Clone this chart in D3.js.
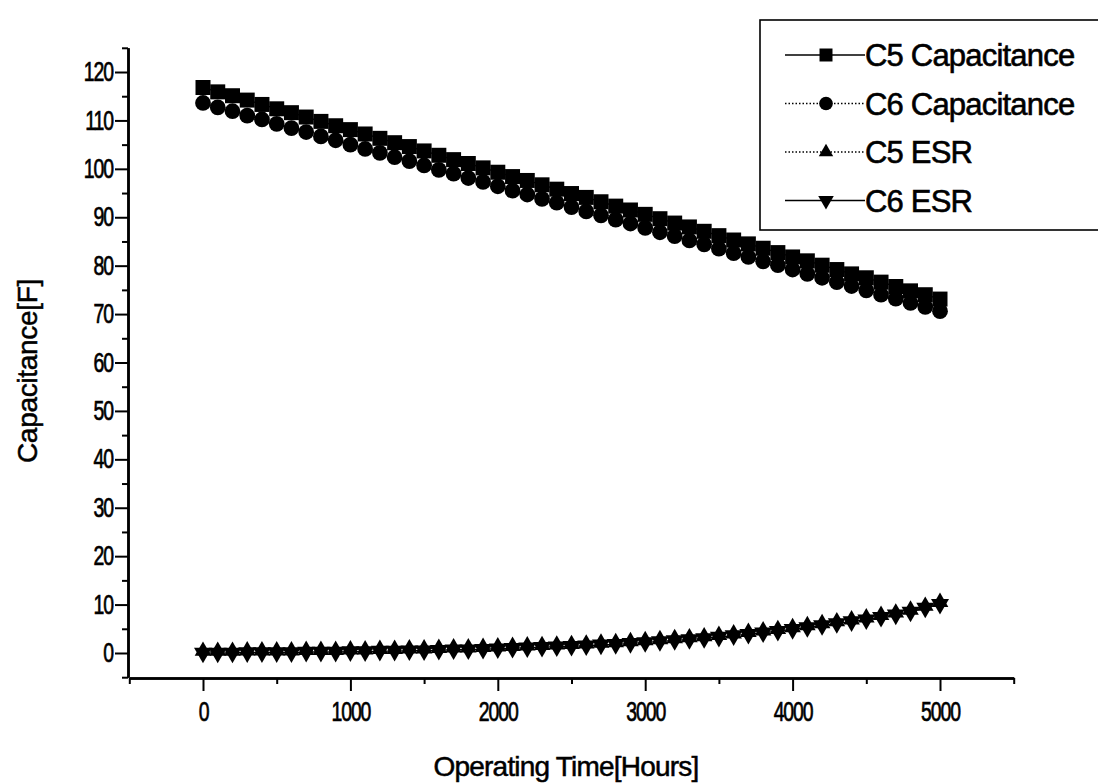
<!DOCTYPE html>
<html><head><meta charset="utf-8">
<script src="https://cdn.jsdelivr.net/npm/d3@7"></script>
<style>body{margin:0;background:#fff}</style>
</head><body><svg id="c" width="1098" height="784"></svg>
<script>
const hours = [0,100,200,300,400,500,600,700,800,900,1000,1100,1200,1300,1400,1500,1600,1700,1800,1900,2000,2100,2200,2300,2400,2500,2600,2700,2800,2900,3000,3100,3200,3300,3400,3500,3600,3700,3800,3900,4000,4100,4200,4300,4400,4500,4600,4700,4800,4900,5000];
const c5Cap = [116.8,115.9,115.1,114.2,113.3,112.4,111.6,110.7,109.8,108.9,108.1,107.2,106.3,105.4,104.6,103.7,102.8,101.9,101.1,100.2,99.3,98.4,97.6,96.7,95.8,94.9,94.1,93.2,92.3,91.5,90.6,89.7,88.8,88.0,87.1,86.2,85.3,84.5,83.6,82.7,81.8,81.0,80.1,79.2,78.3,77.5,76.6,75.7,74.8,74.0,73.1];
const c6Cap = [113.6,112.7,111.9,111.0,110.2,109.3,108.4,107.6,106.7,105.9,105.0,104.1,103.3,102.4,101.6,100.7,99.8,99.0,98.1,97.3,96.4,95.5,94.7,93.8,93.0,92.1,91.2,90.4,89.5,88.7,87.8,86.9,86.1,85.2,84.4,83.5,82.6,81.8,80.9,80.1,79.2,78.3,77.5,76.6,75.8,74.9,74.0,73.2,72.3,71.5,70.6];
const c5Esr = [0.4,0.4,0.4,0.5,0.5,0.5,0.5,0.6,0.6,0.6,0.7,0.7,0.8,0.8,0.9,0.9,1.0,1.1,1.1,1.2,1.3,1.4,1.5,1.6,1.7,1.8,1.9,2.1,2.2,2.4,2.6,2.8,3.0,3.2,3.4,3.7,4.0,4.3,4.6,4.9,5.3,5.7,6.1,6.5,6.9,7.3,7.8,8.3,8.9,9.7,10.5];
const c6Esr = [0.0,0.0,0.0,0.1,0.1,0.1,0.1,0.2,0.2,0.2,0.3,0.3,0.4,0.4,0.5,0.5,0.6,0.7,0.7,0.8,0.9,1.0,1.1,1.2,1.3,1.4,1.5,1.7,1.8,2.0,2.2,2.4,2.6,2.8,3.0,3.3,3.6,3.9,4.2,4.5,4.9,5.3,5.7,6.1,6.5,6.9,7.4,7.9,8.5,9.3,10.1];
const seriesNames = ["C5 Capacitance","C6 Capacitance","C5 ESR","C6 ESR"];
const xTicks = [0,1000,2000,3000,4000,5000];
const xMinor = [-500,500,1500,2500,3500,4500,5500];
const yTicks = [0,10,20,30,40,50,60,70,80,90,100,110,120];
const yMinor = [-5,5,15,25,35,45,55,65,75,85,95,105,115,125];
const xTitle = "Operating Time[Hours]";
const yTitle = "Capacitance[F]";

const svg = d3.select("#c");
const x = d3.scaleLinear().domain([-500,5500]).range([129.3,1013.7]);
const y = d3.scaleLinear().domain([-5,125]).range([677.2,47.8]);
const mainFont = "'Liberation Sans',Arial,sans-serif";
const K = 0.72; // horizontal condensing of tick labels

const series = [
  {name: seriesNames[0], vals: c5Cap, sym: d3.symbolSquare, size: 225, dash: null},
  {name: seriesNames[1], vals: c6Cap, sym: d3.symbolCircle, size: 195, dash: "1.5,2"},
  {name: seriesNames[2], vals: c5Esr, sym: d3.symbolTriangle, size: 120, dash: "1.5,2"},
  {name: seriesNames[3], vals: c6Esr, sym: d3.symbolTriangle, size: 140, dash: null, rot: 180}
];

// lines
const line = d3.line().x((d,i)=>x(hours[i])).y(d=>y(d));
series.forEach(s=>{
  svg.append("path").attr("d", line(s.vals)).attr("fill","none").attr("stroke","#000")
    .attr("stroke-width",1.3).attr("stroke-dasharray", s.dash);
});
// markers
[series[2],series[3],series[1],series[0]].forEach(s=>{
  const sym = d3.symbol().type(s.sym).size(s.size);
  svg.append("g").selectAll("path").data(s.vals).join("path")
    .attr("d", sym())
    .attr("transform",(d,i)=>`translate(${x(hours[i])},${y(d)})` + (s.rot?` rotate(${s.rot})`:""))
    .attr("fill","#000");
});

// axes
const xAxisG = svg.append("g").attr("transform","translate(0,678)");
xAxisG.call(d3.axisBottom(x).tickValues(xTicks).tickSize(13).tickSizeOuter(0).tickPadding(11).tickFormat(d3.format("d")));
const xMinorG = svg.append("g").attr("transform","translate(0,678)");
xMinorG.call(d3.axisBottom(x).tickValues(xMinor).tickSize(6).tickSizeOuter(0).tickFormat(""));
const yAxisG = svg.append("g").attr("transform","translate(128,0)");
yAxisG.call(d3.axisLeft(y).tickValues(yTicks).tickSize(13).tickSizeOuter(0).tickPadding(2).tickFormat(d3.format("d")));
const yMinorG = svg.append("g").attr("transform","translate(128,0)");
yMinorG.call(d3.axisLeft(y).tickValues(yMinor).tickSize(6).tickSizeOuter(0).tickFormat(""));
[xAxisG,xMinorG,yAxisG,yMinorG].forEach(g=>{
  g.selectAll("path.domain").attr("stroke","#000").attr("stroke-width",2.5);
  g.selectAll(".tick line").attr("stroke","#000").attr("stroke-width",2);
});
// condensed, heavy tick labels
xAxisG.selectAll(".tick text").each(function(){
  const t = d3.select(this);
  t.attr("fill","#000").attr("stroke","#000").attr("stroke-width",0.7)
   .style("font-family",mainFont).style("font-size","27px").style("letter-spacing","-1.5px")
   .attr("transform",`scale(${K},1)`);
});
yAxisG.selectAll(".tick text").each(function(){
  const t = d3.select(this);
  t.attr("fill","#000").attr("stroke","#000").attr("stroke-width",0.7)
   .style("font-family",mainFont).style("font-size","27px").style("letter-spacing","-1.5px")
   .attr("x",-15/K).attr("transform",`scale(${K},1)`);
});

// axis titles
svg.append("text").attr("x",566).attr("y",776).attr("text-anchor","middle")
  .attr("stroke","#000").attr("stroke-width",0.5)
  .style("font-family",mainFont).style("font-size","28px").style("letter-spacing","-0.8px").text(xTitle);
svg.append("text").attr("transform","translate(37,371) rotate(-90)").attr("text-anchor","middle")
  .attr("stroke","#000").attr("stroke-width",0.5)
  .style("font-family",mainFont).style("font-size","28px").style("letter-spacing","-0.3px").text(yTitle);

// legend
svg.append("rect").attr("x",760).attr("y",20).attr("width",360).attr("height",210)
  .attr("fill","#fff").attr("stroke","#000").attr("stroke-width",1.6);
series.forEach((s,i)=>{
  const cy = 55 + i*48.5;
  const g = svg.append("g");
  g.append("line").attr("x1",785).attr("x2",865).attr("y1",cy).attr("y2",cy)
    .attr("stroke","#000").attr("stroke-width",1.4).attr("stroke-dasharray", s.dash);
  g.append("path").attr("d", d3.symbol().type(s.sym).size(s.size*0.75)())
    .attr("transform",`translate(826,${cy})` + (s.rot?` rotate(${s.rot})`:""))
    .attr("fill","#000");
  g.append("text").attr("x",865).attr("y",cy+11)
    .attr("stroke","#000").attr("stroke-width",0.6)
    .style("font-family",mainFont).style("font-size","31px").style("letter-spacing","-0.8px").text(s.name);
});
</script>
</body></html>
